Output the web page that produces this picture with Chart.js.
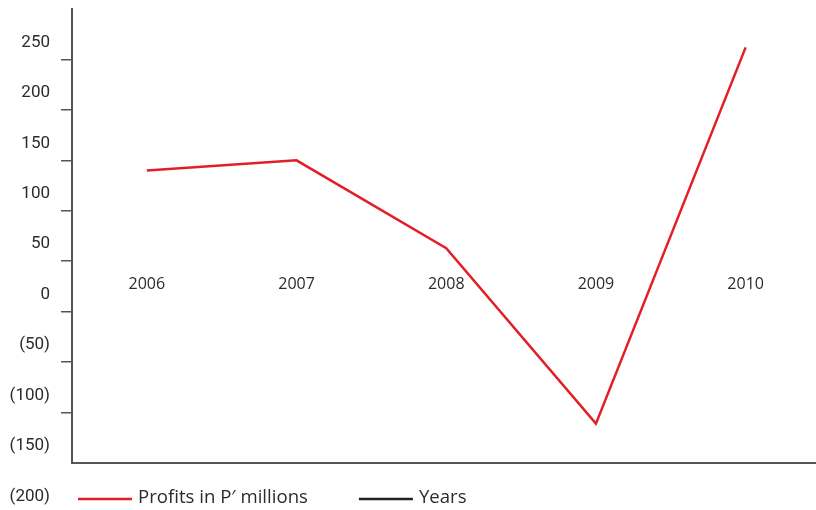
<!DOCTYPE html>
<html>
<head>
<meta charset="utf-8">
<title>Profits</title>
<script src="https://cdn.jsdelivr.net/npm/chart.js@4.4.0/dist/chart.umd.min.js"></script>
<style>
  body { margin: 0; background: #fff; }
  canvas { display: block; }
</style>
</head>
<body>
<canvas id="profitChart" width="816" height="510"></canvas>
<script>
"use strict"

// years along the bottom and profit for each year (P' millions)
const years = [2006, 2007, 2008, 2009, 2010];
const profits = [140, 150, 63, -111, 262];

// values on the left axis, brackets mean a loss
const yTickValues = [-200, -150, -100, -50, 0, 50, 100, 150, 200, 250, 300];
const yTickLabels = ["(200)", "(150)", "(100)", "(50)", "0", "50", "100", "150", "200", "250", ""];

const legendLabels = ["Profits in P\u2032 millions", "Years"];
const legendColors = ["#e41e26", "#222222"];

const axisColor = "#555555";
const textColor = "#2b2b2b";

function setYearTicks(scale) {
    scale.ticks = years.map(function (y) { return { value: y }; });
}

// no tick mark at the very top, at the corner or below the plot
function tickMarkColor(ctx) {
    if (!ctx.tick) return axisColor;
    const v = ctx.tick.value;
    if (v === 300 || v === -150 || v === -200) return "rgba(0,0,0,0)";
    return axisColor;
}

// legend drawn as a short line then the text, spaced out along the bottom
const lineLegend = {
    id: "lineLegend",
    afterDraw(chart) {
        const ctx = chart.ctx;
        let x = 78;
        const y = 499;
        ctx.save();
        ctx.font = "18.6px 'Open Sans'";
        ctx.textBaseline = "middle";
        ctx.textAlign = "left";
        for (let i = 0; i < legendLabels.length; i++) {
            ctx.strokeStyle = legendColors[i];
            ctx.lineWidth = 2.5;
            ctx.beginPath();
            ctx.moveTo(x, y);
            ctx.lineTo(x + 54, y);
            ctx.stroke();
            ctx.fillStyle = textColor;
            ctx.fillText(legendLabels[i], x + 60, y - 1);
            x = x + 60 + ctx.measureText(legendLabels[i]).width + 51;
        }
        ctx.restore();
    }
};

const data = {
    datasets: [
        {
            label: legendLabels[0],
            data: years.map(function (y, i) { return { x: y, y: profits[i] }; }),
            borderColor: legendColors[0],
            backgroundColor: legendColors[0],
            borderWidth: 2.5,
            pointRadius: 0,
            tension: 0,
            clip: false
        }
    ]
};

const config = {
    type: "line",
    data: data,
    options: {
        responsive: false,
        animation: false,
        devicePixelRatio: 1,
        layout: { padding: { top: 9, bottom: 39, left: 0, right: 0 } },
        plugins: {
            legend: { display: false },
            tooltip: { enabled: false }
        },
        scales: {
            x: {
                type: "linear",
                min: 2005.5,
                max: 2010.47,
                afterBuildTicks: setYearTicks,
                afterFit: function (scale) { scale.paddingLeft = 0; scale.paddingRight = 0; },
                grid: { display: false },
                ticks: { display: false },
                border: { display: true, color: axisColor, width: 2 }
            },
            // year labels sit inside the plot, just above the zero line
            xl: {
                type: "linear",
                axis: "x",
                position: { y: 44 },
                min: 2005.5,
                max: 2010.47,
                afterBuildTicks: setYearTicks,
                grid: { display: false },
                border: { display: false },
                ticks: {
                    padding: 0,
                    color: textColor,
                    font: { family: "'Open Sans'", size: 16 },
                    callback: function (v) { return String(v); }
                }
            },
            y: {
                type: "linear",
                min: -150,
                max: 300,
                afterBuildTicks: function (scale) {
                    scale.ticks = yTickValues.map(function (v) { return { value: v }; });
                },
                afterFit: function (scale) {
                    scale.width = 72;
                    scale.paddingTop = 0;
                    scale.paddingBottom = 0;
                },
                grid: {
                    drawOnChartArea: false,
                    drawTicks: true,
                    tickLength: 11,
                    color: tickMarkColor,
                    lineWidth: 1.5
                },
                border: { display: true, color: axisColor, width: 2 },
                ticks: {
                    padding: 11,
                    labelOffset: -17,
                    color: textColor,
                    font: { family: "Roboto", size: 17 },
                    callback: function (v) {
                        const i = yTickValues.indexOf(v);
                        return i >= 0 ? yTickLabels[i] : "";
                    }
                }
            }
        }
    },
    plugins: [lineLegend]
};

const profitChart = new Chart(document.getElementById("profitChart"), config);
</script>
</body>
</html>
